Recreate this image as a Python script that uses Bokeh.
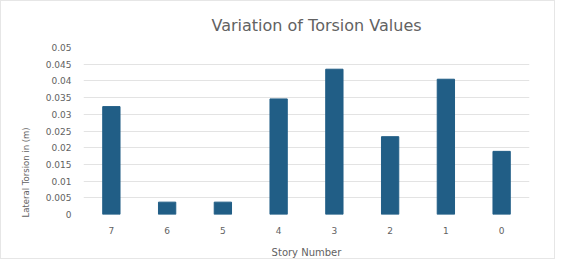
from bokeh.plotting import figure
from bokeh.models import FactorRange, Range1d, FixedTicker, Title
from bokeh.embed import file_html
from bokeh.resources import INLINE

stories = ["7", "6", "5", "4", "3", "2", "1", "0"]
torsion = [0.0323, 0.0037, 0.0037, 0.0346, 0.0435, 0.0233, 0.0405, 0.0189]
y_ticks = [0, 0.005, 0.01, 0.015, 0.02, 0.025, 0.03, 0.035, 0.04, 0.045, 0.05]
y_tick_labels = ["0", "0.005", "0.01", "0.015", "0.02", "0.025", "0.03", "0.035", "0.04", "0.045", "0.05"]

FONT = "DejaVu Sans"
GRAY = "#626262"

p = figure(width=555, height=259, x_range=FactorRange(*stories, range_padding=0),
           y_range=Range1d(0, 0.05), output_backend="svg", toolbar_location=None,
           min_border_left=82, min_border_right=27, min_border_top=45, min_border_bottom=46)

p.vbar(x=stories, top=torsion, width=0.31, color="#215E86")

t = Title(text="Variation  of  Torsion  Values", align="left", text_font=FONT,
          text_font_size="16px", text_font_style="normal", text_color=GRAY,
          offset=128, standoff=25)
p.add_layout(t, "above")

ytitle = Title(text="Lateral Torsion in (m)", align="left", text_font=FONT,
               text_font_size="8.5px", text_font_style="normal", text_color=GRAY,
               offset=-3, standoff=23)
p.add_layout(ytitle, "left")

p.outline_line_color = None
p.xgrid.grid_line_color = None
p.ygrid.grid_line_color = "#E3E3E3"
p.ygrid.ticker = FixedTicker(ticks=y_ticks)

p.yaxis.ticker = FixedTicker(ticks=y_ticks)
p.yaxis.major_label_overrides = {v: s for v, s in zip(y_ticks, y_tick_labels)}

for ax in (p.xaxis[0], p.yaxis[0]):
    ax.axis_line_color = None
    ax.major_tick_line_color = None
    ax.minor_tick_line_color = None
    ax.major_tick_out = 0
    ax.major_tick_in = 0
    ax.major_label_text_font = FONT
    ax.major_label_text_font_size = "9px"
    ax.major_label_text_color = GRAY
    ax.axis_label_text_font = FONT
    ax.axis_label_text_font_size = "10px"
    ax.axis_label_text_font_style = "normal"
    ax.axis_label_text_color = GRAY

p.yaxis.major_label_standoff = 12
p.xaxis.major_label_standoff = 12
p.xaxis.axis_label = "Story Number"
p.xaxis.axis_label_standoff = 10

p.styles = {"border": "1px solid #E6E6E6"}

open("out.html", "w").write(file_html(p, INLINE))
